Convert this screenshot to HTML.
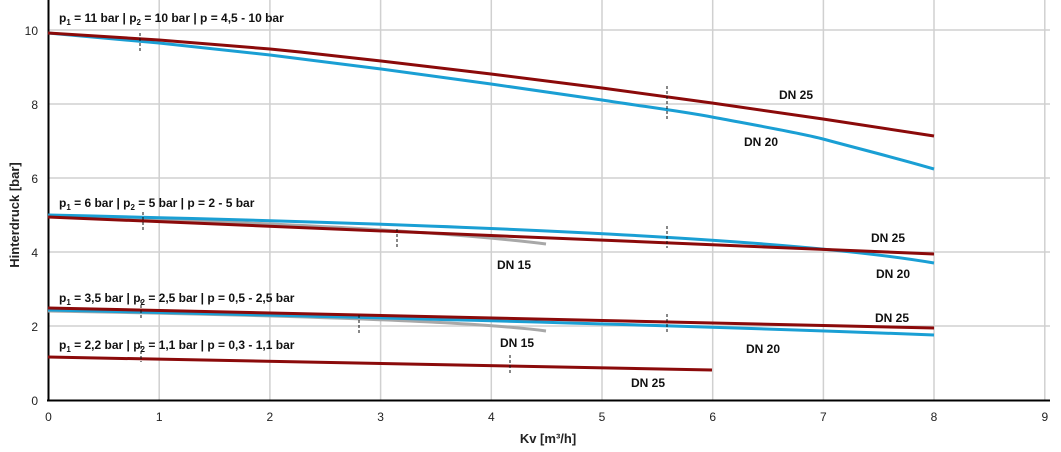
<!DOCTYPE html>
<html><head><meta charset="utf-8"><style>body{margin:0;background:#fff}svg{display:block}text{font-family:"Liberation Sans",sans-serif}</style></head><body>
<svg width="1061" height="452" xmlns="http://www.w3.org/2000/svg">
<g stroke="#d0d0d0" stroke-width="1.5">
<line x1="159.2" y1="0" x2="159.2" y2="400"/><line x1="269.9" y1="0" x2="269.9" y2="400"/><line x1="380.6" y1="0" x2="380.6" y2="400"/><line x1="491.3" y1="0" x2="491.3" y2="400"/><line x1="602" y1="0" x2="602" y2="400"/><line x1="712.7" y1="0" x2="712.7" y2="400"/><line x1="823.4" y1="0" x2="823.4" y2="400"/><line x1="934" y1="0" x2="934" y2="400"/><line x1="1044.8" y1="0" x2="1044.8" y2="400"/>
<line x1="48" y1="30" x2="1050" y2="30"/><line x1="48" y1="104" x2="1050" y2="104"/><line x1="48" y1="178" x2="1050" y2="178"/><line x1="48" y1="252" x2="1050" y2="252"/><line x1="48" y1="326" x2="1050" y2="326"/>
</g>
<line x1="48.5" y1="0" x2="48.5" y2="401" stroke="#000" stroke-width="2"/>
<line x1="47" y1="400.5" x2="1050" y2="400.5" stroke="#000" stroke-width="2"/>
<g font-size="12" fill="#222" text-anchor="end">
<text x="38" y="35">10</text><text x="38" y="109">8</text><text x="38" y="183">6</text><text x="38" y="257">4</text><text x="38" y="331">2</text><text x="38" y="405">0</text></g>
<g font-size="12" fill="#222" text-anchor="middle">
<text x="48.5" y="421">0</text><text x="159.2" y="421">1</text><text x="269.9" y="421">2</text><text x="380.6" y="421">3</text><text x="491.3" y="421">4</text><text x="602" y="421">5</text><text x="712.7" y="421">6</text><text x="823.4" y="421">7</text><text x="934" y="421">8</text><text x="1044.8" y="421">9</text></g>
<text x="548" y="443" font-size="13" font-weight="bold" text-anchor="middle" fill="#222">Kv [m³/h]</text>
<text transform="translate(19,215) rotate(-90)" font-size="13" font-weight="bold" text-anchor="middle" fill="#222">Hinterdruck [bar]</text>
<g fill="none" stroke-width="3" stroke-linejoin="round">
<path d="M48,33 L159,43 L270,55 L381,69 L491,84 L602,100 C640,106 680,111 712,117 C760,126 800,133 823,139 C860,149 900,159 934,169" stroke="#1a9fd4"/>
<polyline points="48,33 159,40 270,49 300,52 381,61 491,74 602,88 712,103 823,119 934,136" stroke="#8b0a0a"/>
<path d="M48,216 Q 400,226 546,244" stroke="#a8a8a8"/>
<path d="M48,215 C 500,225 800,240 934,263" stroke="#1a9fd4"/>
<path d="M48,217 Q 300,228 934,254" stroke="#8b0a0a"/>
<path d="M48,311 Q 450,318 546,331" stroke="#a8a8a8"/>
<path d="M48,310 Q 600,322 934,335" stroke="#1a9fd4"/>
<path d="M48,308 Q 500,318 934,328" stroke="#8b0a0a"/>
<path d="M48,357 L712,370" stroke="#8b0a0a"/>
</g>
<g stroke="#111" stroke-width="1" stroke-dasharray="3,2">
<line x1="140" y1="33" x2="140" y2="52"/><line x1="667" y1="86" x2="667" y2="121"/>
<line x1="143" y1="212" x2="143" y2="230"/><line x1="397" y1="229" x2="397" y2="249"/><line x1="667" y1="226" x2="667" y2="248"/>
<line x1="141" y1="300" x2="141" y2="320"/><line x1="359" y1="315" x2="359" y2="334"/><line x1="667" y1="314" x2="667" y2="333"/>
<line x1="141" y1="341" x2="141" y2="362"/><line x1="510" y1="355" x2="510" y2="374"/>
</g>
<g font-size="12" font-weight="bold" fill="#111">
<text x="59" y="22">p<tspan font-size="8" dy="3">1</tspan><tspan dy="-3"> = 11 bar | p</tspan><tspan font-size="8" dy="3">2</tspan><tspan dy="-3"> = 10 bar | p = 4,5 - 10 bar</tspan></text>
<text x="59" y="207">p<tspan font-size="8" dy="3">1</tspan><tspan dy="-3"> = 6 bar | p</tspan><tspan font-size="8" dy="3">2</tspan><tspan dy="-3"> = 5 bar | p = 2 - 5 bar</tspan></text>
<text x="59" y="302">p<tspan font-size="8" dy="3">1</tspan><tspan dy="-3"> = 3,5 bar | p</tspan><tspan font-size="8" dy="3">2</tspan><tspan dy="-3"> = 2,5 bar | p = 0,5 - 2,5 bar</tspan></text>
<text x="59" y="349">p<tspan font-size="8" dy="3">1</tspan><tspan dy="-3"> = 2,2 bar | p</tspan><tspan font-size="8" dy="3">2</tspan><tspan dy="-3"> = 1,1 bar | p = 0,3 - 1,1 bar</tspan></text>
<text x="779" y="99">DN 25</text><text x="744" y="146">DN 20</text>
<text x="871" y="242">DN 25</text><text x="876" y="278">DN 20</text><text x="497" y="269">DN 15</text>
<text x="875" y="322">DN 25</text><text x="746" y="353">DN 20</text><text x="500" y="347">DN 15</text>
<text x="631" y="387">DN 25</text>
</g>
</svg>
</body></html>
